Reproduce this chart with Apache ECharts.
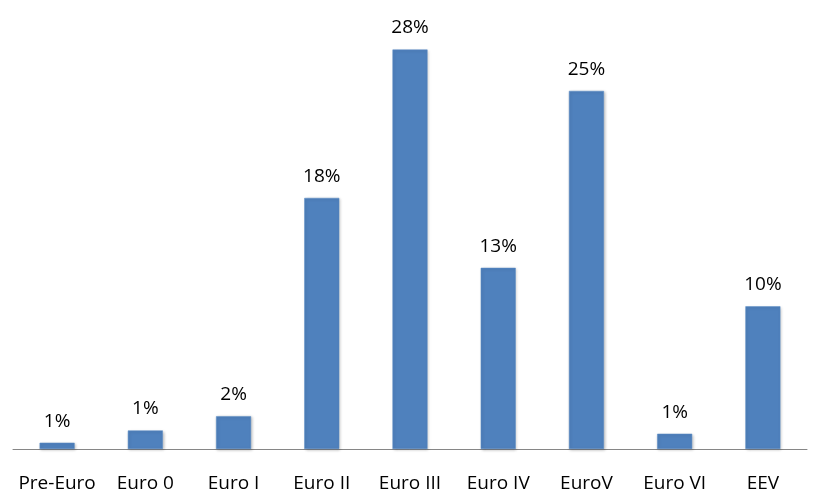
<!DOCTYPE html>
<html><head><meta charset="utf-8">
<script src="https://cdn.jsdelivr.net/npm/echarts@6/dist/echarts.min.js"></script>
<style>html,body{margin:0;padding:0;background:#fff}#c{width:813px;height:489px}</style>
</head><body><div id="c"></div>
<script>
const categories = ['Pre-Euro','Euro 0','Euro I','Euro II','Euro III','Euro IV','EuroV','Euro VI','EEV'];
const values = [0.44, 1.3, 2.3, 17.6, 28.0, 12.7, 25.1, 1.07, 10.0];
const labels = ['1%','1%','2%','18%','28%','13%','25%','1%','10%'];

const chart = echarts.init(document.getElementById('c'));
chart.setOption({
  animation: false,
  grid: {left: 13, right: 6, top: 21, bottom: 40, outerBoundsMode: 'none', containLabel: false},
  xAxis: {
    type: 'category', data: categories,
    axisLine: {lineStyle: {color: '#868686', width: 1}},
    axisTick: {show: false},
    axisLabel: {color: '#000', fontFamily: 'Open Sans', fontSize: 19, margin: 25, interval: 0}
  },
  yAxis: {type: 'value', min: 0, max: 30, show: false, splitLine: {show: false}},
  series: [{
    type: 'bar', data: values, barWidth: 35,
    itemStyle: {color: '#4f81bd', borderColor: '#5b8cc6', borderWidth: 0.5, shadowColor: 'rgba(0,0,0,0.25)', shadowBlur: 3, shadowOffsetX: 1, shadowOffsetY: 1},
    label: {show: true, position: 'top', distance: 12, color: '#000', fontFamily: 'Open Sans', fontSize: 19,
      formatter: p => labels[p.dataIndex]}
  }]
});
</script></body></html>
